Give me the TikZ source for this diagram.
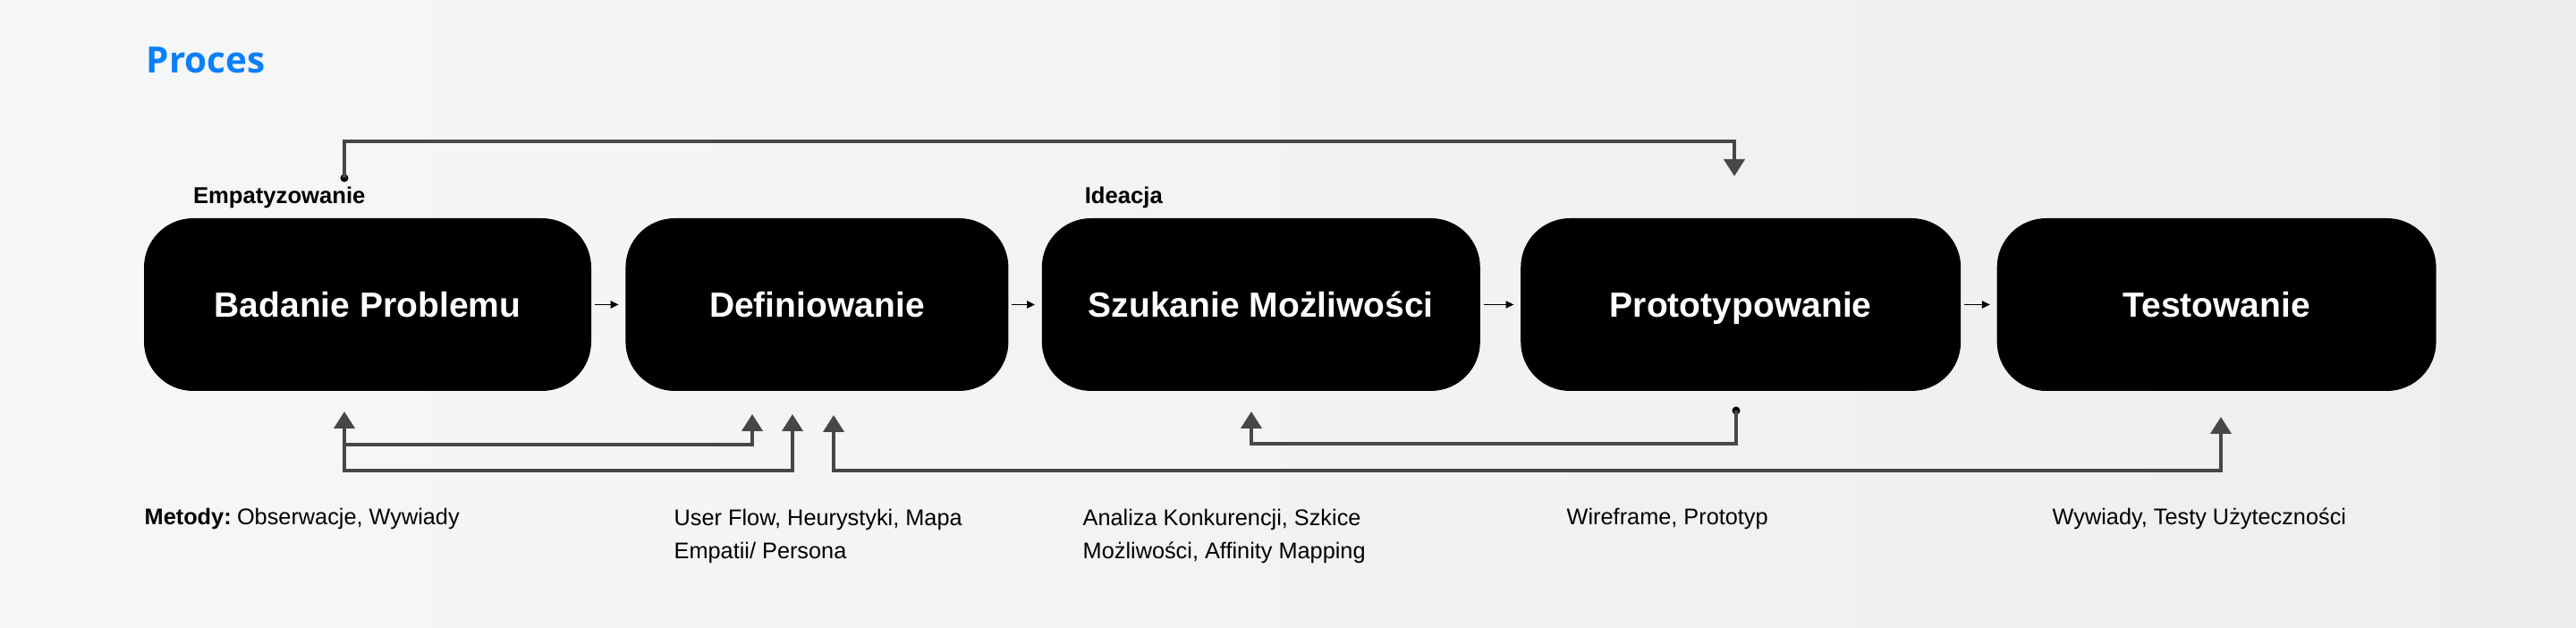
\documentclass[tikz,border=0pt]{standalone}
\usepackage{fontspec}
\setmainfont{Liberation Sans}
\newfontfamily\headfont{Open Sans}
\usetikzlibrary{arrows.meta,positioning,calc}

\definecolor{procblue}{RGB}{10,127,250}
\definecolor{linegrey}{HTML}{474747}
\definecolor{bgleft}{HTML}{F6F7F7}
\definecolor{bgright}{HTML}{EDEEEF}

\begin{document}
\begin{tikzpicture}[
  stage/.style={fill=black, rounded corners=5.5mm, minimum height=19.3mm,
    inner sep=0pt, text height=7.95pt, text depth=0pt, text=white,
    font=\bfseries\fontsize{11.1}{13}\selectfont},
  phase/.style={inner sep=0pt, anchor=base west, font=\bfseries\fontsize{7.3}{9}\selectfont},
  method/.style={inner sep=0pt, align=left, anchor=base west, font=\fontsize{7.2}{10.8}\selectfont},
  flow/.style={-{Triangle[length=0.9mm, width=0.8mm]}, line width=0.55pt,
    shorten <=0.3mm, shorten >=0.7mm},
  feedback/.style={-{Triangle[length=1.9mm, width=2.3mm]}, draw=linegrey, line width=0.4mm},
  feedbackboth/.style={{Triangle[length=1.9mm, width=2.3mm]}-{Triangle[length=1.9mm, width=2.3mm]},
    draw=linegrey, line width=0.4mm},
  startdot/.style={circle, fill=black, inner sep=0pt, minimum size=0.9mm}
]
  \shade[left color=bgleft, right color=bgright] (0,0) rectangle (28.8,7.02);
  \useasboundingbox (0,0) rectangle (28.8,7.02);

  \node[anchor=base west, inner sep=0pt, text=procblue,
    font=\headfont\bfseries\fontsize{11.5}{14}\selectfont] (title) at (1.63,6.20) {Proces};

  % stages
  \node[stage, minimum width=50mm] (badanie) at (4.11,3.615) {Badanie Problemu};
  \node[stage, minimum width=42.8mm, right=3.7mm of badanie] (definiowanie) {Definiowanie};
  \node[stage, minimum width=49mm, right=3.6mm of definiowanie] (szukanie) {Szukanie Możliwości};
  \node[stage, minimum width=49.2mm, right=4.4mm of szukanie] (prototyp) {Prototypowanie};
  \node[stage, minimum width=49.1mm, right=3.9mm of prototyp] (testowanie) {Testowanie};

  \draw[flow] (badanie) -- (definiowanie);
  \draw[flow] (definiowanie) -- (szukanie);
  \draw[flow] (szukanie) -- (prototyp);
  \draw[flow] (prototyp) -- (testowanie);

  \node[phase] (empatia) at ($(badanie.north west)+(0.55,0.16)$) {Empatyzowanie};
  \node[phase] (ideacja) at ($(szukanie.north west)+(0.48,0.16)$) {Ideacja};

  % feedback lines
  \node[startdot] (topstart) at (3.85,5.03) {};
  \coordinate (toptip) at (19.39,5.05);
  \draw[feedback] (topstart.center) -- ++(0,0.41) -| (toptip);

  \coordinate (badtip) at (3.85,2.42);
  \coordinate (deftipA) at (8.41,2.39);
  \coordinate (deftipB) at (8.86,2.39);
  \coordinate (deftipC) at (9.32,2.38);
  \coordinate (szutip) at (13.99,2.42);
  \node[startdot] (protostart) at (19.41,2.43) {};
  \coordinate (testtip) at (24.83,2.36);

  \draw[feedbackboth] (badtip) -- ++(0,-0.66) -| (deftipB);
  \draw[feedback] ($(badtip)+(0,-0.37)$) -| (deftipA);
  \draw[feedbackboth] (deftipC) -- ++(0,-0.62) -| (testtip);
  \draw[feedback] (protostart.center) -- ++(0,-0.37) -| (szutip);

  % methods
  \node[method] (metbad) at (1.61,1.15) {\textbf{Metody:}\hspace{1.8pt}Obserwacje, Wywiady};
  \node[method] (metdef) at (7.53,0.77) {User Flow, Heurystyki, Mapa\\Empatii/ Persona};
  \node[method] (metszu) at (12.10,0.77) {Analiza Konkurencji, Szkice\\Możliwości, Affinity Mapping};
  \node[method] (metpro) at (17.51,1.15) {Wireframe, Prototyp};
  \node[method] (mettes) at (22.94,1.15) {Wywiady, Testy Użyteczności};
\end{tikzpicture}
\end{document}
